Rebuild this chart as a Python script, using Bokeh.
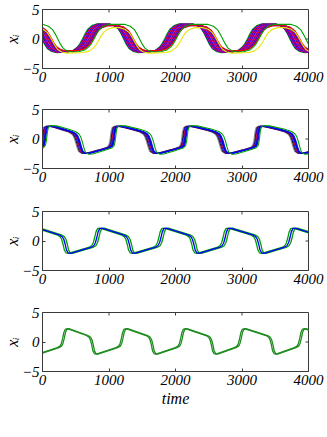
from bokeh.plotting import figure
from bokeh.layouts import column
from bokeh.models import Range1d, FixedTicker
from bokeh.embed import file_html
from bokeh.resources import INLINE

# ---------------- data ----------------
x_ticks = [0, 1000, 2000, 3000, 4000]
y_ticks = [-5, 0, 5]
x_label = "time"
y_label = "x\u1d62"

# Panel 1 (reference trace event times, cycle shape, per-trace lags)
p1_rise_times = [-555, 690, 1925, 3170, 4420]
p1_fall_times = [60, 1290, 2540, 3790, 5030]
p1_rise_dt = [-220, -140, -80, -40, 0, 40, 80, 140, 220]
p1_rise_val = [-2.05, -1.8, -1.3, -0.75, 0.0, 0.85, 1.55, 2.1, 2.4]
p1_fall_dt = [-220, -140, -80, -40, 0, 40, 80, 140, 220]
p1_fall_val = [2.4, 2.1, 1.55, 0.85, 0.0, -0.85, -1.5, -1.95, -2.15]
p1_rise_lag = [-90, -75, -65, -55, -45, -35, -25, -15, -5, 5, 15, 25, 35, 45, 55, 65, 75, 85, 150]
p1_fall_lag = [-70, -60, -50, -45, -35, -25, -20, -10, 0, 10, 20, 30, 40, 50, 60, 70, 80, 170, 90]
p1_amp = [1.08, 1.05, 1.04, 1.03, 1.02, 1.01, 1.0, 1.0, 0.99, 0.98, 0.98, 0.97, 0.96, 0.96, 0.95, 0.94, 0.94, 1.03, 0.95]
p1_shift = [0, 0, 0, 0, 0, 0, 0, 0, 0, 0, 0, 0, 0, 0, 0, 0, 0, 0, -0.35]
p1_color = ["#00a000", "#0000ff", "#ff0000", "#cc00cc", "#0000cc", "#ff0000", "#8000c0",
            "#0000ff", "#ff00ff", "#d00000", "#2020d0", "#ff0000", "#9000c0", "#0000ff",
            "#e00060", "#3000c0", "#ff0000", "#00a000", "#e6e600"]

# Panel 2
p2_rise_times = [-1040, 30, 1065, 2140, 3230, 4320]
p2_fall_times = [540, 1610, 2695, 3790, 4880]
p2_rise_dt = [-150, -60, -25, -10, 0, 10, 25, 60, 150]
p2_rise_val = [-1.75, -1.45, -1.1, -0.5, 0.3, 1.2, 1.9, 2.15, 2.1]
p2_fall_dt = [-200, -100, -50, -25, 0, 25, 50, 100, 160]
p2_fall_val = [1.55, 1.2, 0.85, 0.45, -0.3, -1.3, -2.1, -2.45, -2.4]
p2_rise_lag = [-45, -30, -20, -10, 0, 10, 20, 35]
p2_fall_lag = [-50, -35, -20, -10, 0, 10, 20, 55]
p2_amp = [1.0, 1.0, 1.0, 1.0, 1.0, 1.0, 1.0, 1.06]
p2_shift = [0, 0, 0, 0, 0, 0, 0, 0]
p2_color = ["#909090", "#202020", "#0000ff", "#ff0000", "#0000ff", "#0000cc", "#0000ff", "#00a000"]

# Panel 3
p3_rise_times = [-150, 815, 1780, 2745, 3720, 4685]
p3_fall_times = [340, 1305, 2275, 3250, 4215]
p3_rise_dt = [-90, -45, -20, 0, 20, 45, 80]
p3_rise_val = [-1.1, -0.8, -0.3, 0.5, 1.5, 2.1, 2.2]
p3_fall_dt = [-90, -45, -20, 0, 20, 45, 80]
p3_fall_val = [1.05, 0.75, 0.3, -0.5, -1.5, -2.0, -2.1]
p3_rise_lag = [-32, 32, 0]
p3_fall_lag = [-32, 32, 0]
p3_amp = [1.0, 1.0, 1.0]
p3_shift = [0, 0, 0]
p3_color = ["#00a000", "#00a000", "#0000ff"]

# Panel 4
p4_rise_times = [-570, 315, 1198, 2090, 2977, 3880, 4770]
p4_fall_times = [-130, 752, 1649, 2551, 3454, 4350]
p4_rise_dt = [-80, -40, -18, 0, 18, 40, 70]
p4_rise_val = [-0.95, -0.7, -0.2, 0.6, 1.6, 2.15, 2.25]
p4_fall_dt = [-80, -40, -18, 0, 18, 40, 70]
p4_fall_val = [1.1, 0.8, 0.3, -0.5, -1.5, -1.95, -2.05]
p4_rise_lag = [-12, 12]
p4_fall_lag = [-12, 12]
p4_amp = [1.0, 1.0]
p4_shift = [0, 0]
p4_color = ["#1e8c1e", "#1e8c1e"]

FONT = "Liberation Serif"
FRAME = "#3a3a3a"
FRAME_W = 266
FRAME_H = 59
TICK_PX = 3
X0, X1 = 0, 4000
Y0, Y1 = -5, 5


def build_trace(rise_times, fall_times, rdt, rval, fdt, fval, rl, fl, amp, sh):
    pts = []
    for R in rise_times:
        for dt, v in zip(rdt, rval):
            pts.append((R + rl + dt, amp * v + sh))
    for F in fall_times:
        for dt, v in zip(fdt, fval):
            pts.append((F + fl + dt, amp * v + sh))
    pts.sort()
    return [a for a, _ in pts], [b for _, b in pts]


def make_panel(min_top, min_bottom, xlabel=None):
    p = figure(frame_width=FRAME_W, frame_height=FRAME_H,
               x_range=Range1d(X0, X1), y_range=Range1d(Y0, Y1),
               output_backend="svg", toolbar_location=None,
               min_border_left=37, min_border_right=16,
               min_border_top=min_top, min_border_bottom=min_bottom)
    p.grid.visible = False
    p.outline_line_color = FRAME
    p.outline_line_width = 1
    p.background_fill_color = "white"
    p.border_fill_color = "white"
    for ax in (p.xaxis[0], p.yaxis[0]):
        ax.major_tick_in = TICK_PX
        ax.major_tick_out = 0
        ax.minor_tick_line_color = None
        ax.axis_line_color = FRAME
        ax.major_tick_line_color = FRAME
        ax.major_label_text_font = FONT
        ax.major_label_text_font_style = "italic"
        ax.major_label_text_font_size = "15px"
        ax.major_label_text_color = "black"
        ax.major_label_standoff = 3
    p.xaxis.ticker = FixedTicker(ticks=x_ticks)
    p.yaxis.ticker = FixedTicker(ticks=y_ticks)
    p.yaxis.major_label_overrides = {-5: "\u22125"}
    p.yaxis.axis_label = y_label
    p.yaxis.axis_label_text_font = FONT
    p.yaxis.axis_label_text_font_style = "italic"
    p.yaxis.axis_label_text_font_size = "16px"
    p.yaxis.axis_label_text_color = "black"
    p.yaxis.axis_label_standoff = -2
    if xlabel:
        p.xaxis.axis_label = xlabel
        p.xaxis.axis_label_text_font = FONT
        p.xaxis.axis_label_text_font_style = "italic"
        p.xaxis.axis_label_text_font_size = "16px"
        p.xaxis.axis_label_text_color = "black"
        p.xaxis.axis_label_standoff = 2
    # inward ticks on the top and right edges of the box
    dy = TICK_PX * (Y1 - Y0) / FRAME_H
    dx = TICK_PX * (X1 - X0) / FRAME_W
    inner_x = [t for t in x_ticks if X0 < t < X1]
    inner_y = [t for t in y_ticks if Y0 < t < Y1]
    p.segment(x0=inner_x, y0=[Y1] * len(inner_x), x1=inner_x, y1=[Y1 - dy] * len(inner_x),
              line_color=FRAME, line_width=1)
    p.segment(x0=[X1] * len(inner_y), y0=inner_y, x1=[X1 - dx] * len(inner_y), y1=inner_y,
              line_color=FRAME, line_width=1)
    return p


def draw(p, rise_times, fall_times, rdt, rval, fdt, fval, rlags, flags, amps, shifts, colors, width):
    for rl, fl, a, s, c in zip(rlags, flags, amps, shifts, colors):
        xs, ys = build_trace(rise_times, fall_times, rdt, rval, fdt, fval, rl, fl, a, s)
        p.line(xs, ys, line_color=c, line_width=width)


p1 = make_panel(9, 31)
draw(p1, p1_rise_times, p1_fall_times, p1_rise_dt, p1_rise_val, p1_fall_dt, p1_fall_val,
     p1_rise_lag, p1_fall_lag, p1_amp, p1_shift, p1_color, 1.1)

p2 = make_panel(10, 33)
draw(p2, p2_rise_times, p2_fall_times, p2_rise_dt, p2_rise_val, p2_fall_dt, p2_fall_val,
     p2_rise_lag, p2_fall_lag, p2_amp, p2_shift, p2_color, 1.1)

p3 = make_panel(10, 32)
draw(p3, p3_rise_times, p3_fall_times, p3_rise_dt, p3_rise_val, p3_fall_dt, p3_fall_val,
     p3_rise_lag, p3_fall_lag, p3_amp, p3_shift, p3_color, 1.3)

p4 = make_panel(10, 55, xlabel=x_label)
draw(p4, p4_rise_times, p4_fall_times, p4_rise_dt, p4_rise_val, p4_fall_dt, p4_fall_val,
     p4_rise_lag, p4_fall_lag, p4_amp, p4_shift, p4_color, 1.3)

layout = column(p1, p2, p3, p4)
open("out.html", "w").write(file_html(layout, INLINE))
